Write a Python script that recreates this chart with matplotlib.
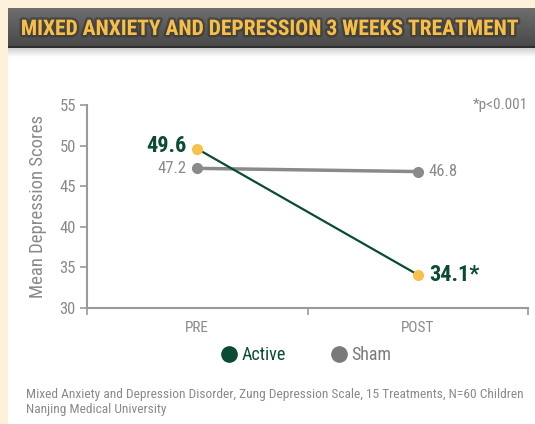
import numpy as np
import matplotlib
matplotlib.use("Agg")
import matplotlib.pyplot as plt
import matplotlib.patheffects as pe
from matplotlib.colors import LinearSegmentedColormap
from matplotlib.lines import Line2D

# ---------------------------------------------------------------------------
# Data
# ---------------------------------------------------------------------------
categories = ["PRE", "POST"]
active_scores = [49.6, 34.1]
sham_scores = [47.2, 46.8]
active_labels = ["49.6", "34.1*"]
sham_labels = ["47.2", "46.8"]
y_ticks = [30, 35, 40, 45, 50, 55]

title = "MIXED ANXIETY AND DEPRESSION 3 WEEKS TREATMENT"
footer = ("Mixed Anxiety and Depression Disorder, Zung Depression Scale, "
          "15 Treatments, N=60 Children\nNanjing Medical University")

# ---------------------------------------------------------------------------
# Style
# ---------------------------------------------------------------------------
plt.rcParams["font.family"] = ["Roboto Condensed", "DejaVu Sans"]

CREAM = "#fdf1dc"
GREEN = "#0b4a33"
YELLOW = "#f8c14c"
GRAY = "#8a8a8a"
AXIS = "#9a9a9a"

W, H = 535, 424
fig = plt.figure(figsize=(W / 100, H / 100), dpi=100)
fig.patch.set_facecolor("white")


def px(x0, y0, x1, y1):
    """pixel box (top-left origin) -> figure rect"""
    return [x0 / W, 1 - y1 / H, (x1 - x0) / W, (y1 - y0) / H]


# cream frame on the left and top
bg = fig.add_axes([0, 0, 1, 1], zorder=-5)
bg.axis("off")
bg.set_xlim(0, W)
bg.set_ylim(H, 0)
bg.add_patch(plt.Rectangle((0, 0), 8, H, color=CREAM, lw=0))
bg.add_patch(plt.Rectangle((0, 0), W, 8, color=CREAM, lw=0))

# header band with gradient + soft shadow under it
hdr = fig.add_axes(px(8, 8, W, 48), zorder=-4)
hdr.axis("off")
hdr.imshow(np.linspace(0, 1, 64).reshape(-1, 1), aspect="auto",
           cmap=LinearSegmentedColormap.from_list("hdr", ["#6e6e6e", "#474747"]),
           extent=[0, 1, 0, 1])
hdr.set_xlim(0, 1)
hdr.set_ylim(0, 1)
hdr.axhline(0.02, color="#2e2e2e", lw=1.5)

shadow = fig.add_axes(px(8, 48, W, 57), zorder=-4)
shadow.axis("off")
shadow.imshow(np.linspace(0, 1, 32).reshape(-1, 1), aspect="auto",
              cmap=LinearSegmentedColormap.from_list("sh", ["#cfcfcf", "#ffffff"]),
              extent=[0, 1, 0, 1])

fig.text(270 / W, 1 - 29 / H, title, ha="center", va="center",
         color="#f8bf47", fontsize=15.5, fontweight="bold",
         path_effects=[pe.withStroke(linewidth=3.5, foreground="#2e2e2e", alpha=0.5)])

# ---------------------------------------------------------------------------
# Chart
# ---------------------------------------------------------------------------
ax = fig.add_axes(px(87, 105, 528, 308))
x = np.arange(len(categories)) + 0.5

ax.plot(x, sham_scores, color=GRAY, lw=2.5, zorder=2)
ax.plot(x, sham_scores, "o", color=GRAY, ms=7, zorder=3)
ax.plot(x, active_scores, color=GREEN, lw=1.6, zorder=4)
ax.plot(x, active_scores, "o", color=YELLOW, ms=7, zorder=5)

for i, (xi, v, lab) in enumerate(zip(x, sham_scores, sham_labels)):
    ha, dx = ("right", -0.05) if i == 0 else ("left", 0.05)
    ax.text(xi + dx, v, lab, ha=ha, va="center", color=GRAY, fontsize=12)
for i, (xi, v, lab) in enumerate(zip(x, active_scores, active_labels)):
    ha, dx = ("right", -0.05) if i == 0 else ("left", 0.05)
    ax.text(xi + dx, v + (0.3 if i == 0 else 0), lab, ha=ha, va="center",
            color=GREEN, fontsize=16, fontweight="bold")

ax.set_xlim(0, 2)
ax.set_ylim(30, 55)
ax.set_yticks(y_ticks)
ax.set_xticks([0, 1, 2])
ax.set_xticklabels([])
ax.set_xticks(x, minor=True)
ax.set_xticklabels(categories, minor=True)
ax.tick_params(axis="x", which="minor", length=0, pad=9, labelsize=11, labelcolor=GRAY)
ax.tick_params(axis="x", which="major", direction="out", length=5, color=AXIS, width=1.2)
ax.tick_params(axis="y", direction="out", length=5, color=AXIS, width=1.2,
               labelsize=12, labelcolor=GRAY, pad=3)
for s in ("top", "right"):
    ax.spines[s].set_visible(False)
for s in ("left", "bottom"):
    ax.spines[s].set_color(AXIS)
    ax.spines[s].set_linewidth(1.5)
ax.set_facecolor("none")

ax.set_ylabel("Mean Depression Scores", color=GRAY, fontsize=13.5, labelpad=9)
ax.text(1.0, 1.0, "*p<0.001", transform=ax.transAxes, ha="right", va="center",
        color=GRAY, fontsize=11)

handles = [Line2D([], [], marker="o", ls="none", color=GREEN, ms=11),
           Line2D([], [], marker="o", ls="none", color="#7a7a7a", ms=11)]
fig.legend(handles, ["Active", "Sham"], loc="center", bbox_to_anchor=(305 / W, 1 - 355 / H),
           ncol=2, frameon=False, fontsize=13, handletextpad=0.1, columnspacing=2.3,
           labelcolor=[GREEN, "#7a7a7a"], handlelength=1.2)

fig.text(26 / W, 1 - 402 / H, footer, ha="left", va="center", color=GRAY,
         fontsize=9.6, linespacing=1.25)

fig.savefig("out.png", dpi=100)
